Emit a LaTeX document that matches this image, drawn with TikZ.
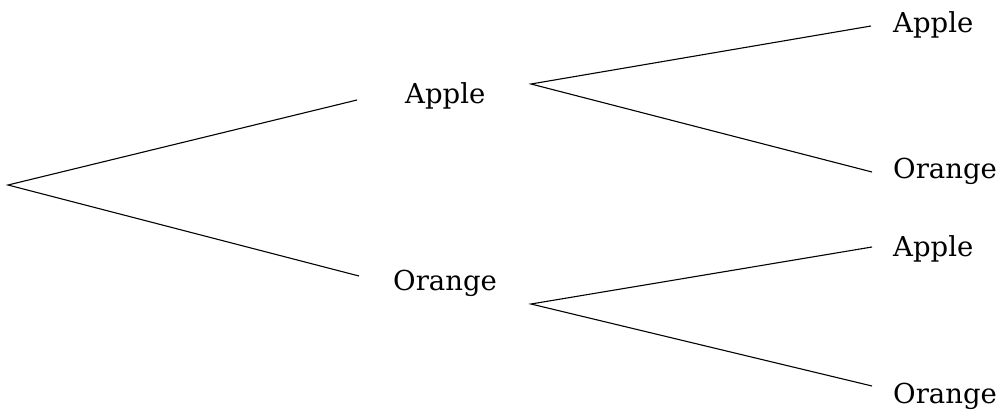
\documentclass[tikz,border=0pt]{standalone}
\usepackage{fontspec}
\setmainfont{DejaVu Serif}
\begin{document}
\begin{tikzpicture}[x=1pt,y=-1pt,
  lbl/.style={anchor=base west,inner sep=0pt,font=\fontsize{27.5}{33}\selectfont},
  edge/.style={line width=1.1pt}]
\useasboundingbox (0,0) rectangle (1006,410);
% labels
\node[lbl] (a) at (405,103) {Apple};
\node[lbl] (o) at (393,290) {Orange};
\node[lbl] (aa) at (893,32) {Apple};
\node[lbl] (ao) at (893,178) {Orange};
\node[lbl] (oa) at (893,256) {Apple};
\node[lbl] (oo) at (893,403) {Orange};
% branch points
\coordinate (root) at (8,185);
\coordinate (aIn) at (357,100);
\coordinate (oIn) at (359,276);
\coordinate (aOut) at (531,84);
\coordinate (oOut) at (531,304);
\coordinate (aaIn) at (871,26);
\coordinate (aoIn) at (872,172);
\coordinate (oaIn) at (872,247);
\coordinate (ooIn) at (872,386);
\draw[edge] (aIn) -- (root) -- (oIn);
\draw[edge] (aaIn) -- (aOut) -- (aoIn);
\draw[edge] (oaIn) -- (oOut) -- (ooIn);
\end{tikzpicture}
\end{document}
